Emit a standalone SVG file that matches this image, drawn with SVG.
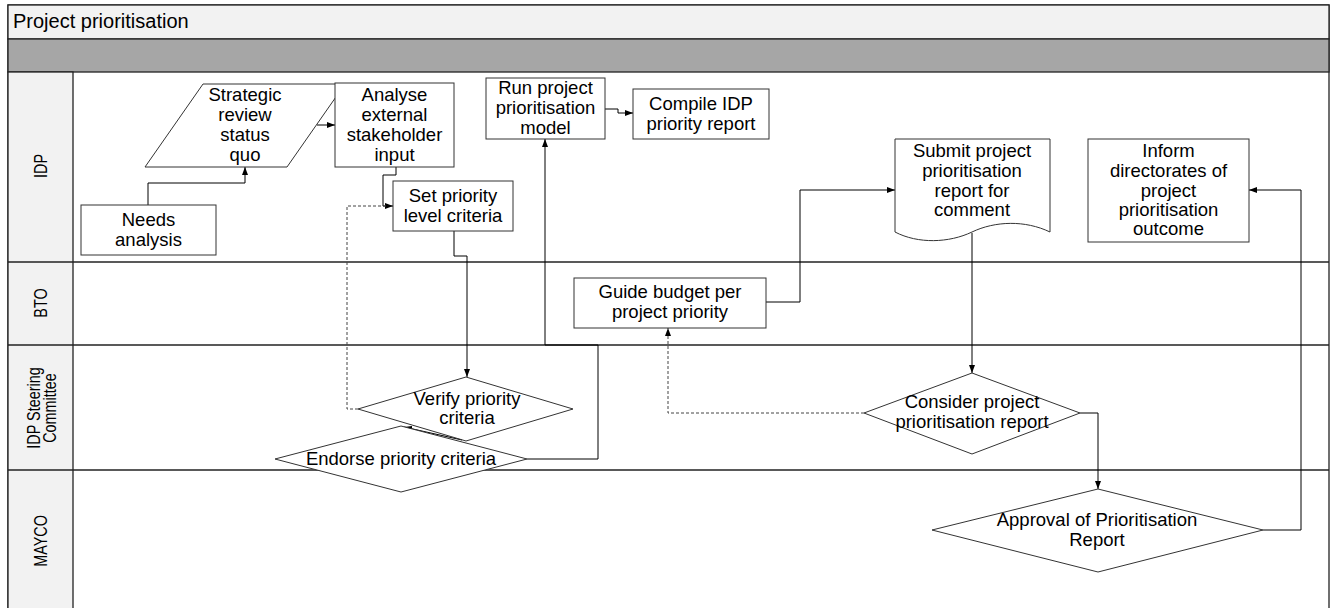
<svg xmlns="http://www.w3.org/2000/svg" width="1335" height="608" viewBox="0 0 1335 608">
  <defs>
    <marker id="arr" viewBox="0 0 8 6" refX="8" refY="3" markerWidth="8" markerHeight="6" orient="auto" markerUnits="userSpaceOnUse">
      <path d="M0,0 L8,3 L0,6 z" fill="#000"/>
    </marker>
  </defs>
  <style>
    .frame { fill: #fff; stroke: #222; stroke-width: 1.3; }
    .hdr { fill: #f2f2f2; stroke: #222; stroke-width: 1.3; }
    .band { fill: #a6a6a6; stroke: #222; stroke-width: 1.3; }
    .lane { stroke: #222; stroke-width: 1.3; fill: none; }
    .node { fill: #fff; stroke: #333; stroke-width: 1; }
    .t { font-family: "Liberation Sans", Arial, sans-serif; font-size: 18.5px; fill: #000; text-anchor: middle; }
    .title { font-family: "Liberation Sans", Arial, sans-serif; font-size: 20px; fill: #000; }
    .lbl { font-family: "Liberation Sans", Arial, sans-serif; font-size: 18px; fill: #000; text-anchor: middle; }
    .c { fill: none; stroke: #000; stroke-width: 1; }
    .d { fill: none; stroke: #444; stroke-width: 1; stroke-dasharray: 3 2; }
  </style>

  <!-- pool frame, title bar and grey band -->
  <g id="pool">
    <rect class="frame" x="8" y="5" width="1321" height="610"/>
    <rect class="hdr" x="8" y="5" width="1321" height="34"/>
    <text class="title" x="13" y="28">Project prioritisation</text>
    <rect class="band" x="8" y="39" width="1321" height="33"/>
    <rect class="hdr" x="8" y="72" width="65" height="543"/>
    <line class="lane" x1="8" y1="262" x2="1329" y2="262"/>
    <line class="lane" x1="8" y1="345" x2="1329" y2="345"/>
    <line class="lane" x1="8" y1="470" x2="1329" y2="470"/>
  </g>

  <!-- lane labels (condensed, rotated) -->
  <g id="lane-labels">
    <text class="lbl" transform="translate(47,166) rotate(-90) scale(0.8,1)">IDP</text>
    <text class="lbl" transform="translate(47,303) rotate(-90) scale(0.8,1)">BTO</text>
    <text class="lbl" transform="translate(39.5,408) rotate(-90) scale(0.8,1)">IDP Steering</text>
    <text class="lbl" transform="translate(56,408) rotate(-90) scale(0.8,1)">Committee</text>
    <text class="lbl" transform="translate(47,541) rotate(-90) scale(0.8,1)">MAYCO</text>
  </g>

  <!-- connectors -->
  <g id="connectors">
    <path class="c" d="M148,205 V183 H245 V167" marker-end="url(#arr)"/>
    <path class="c" d="M317,125 H335" marker-end="url(#arr)"/>
    <path class="c" d="M396,167 V175 H383 V206 H393" marker-end="url(#arr)"/>
    <path class="d" d="M358,409 H347 V206 H386"/>
    <path class="c" d="M454,231 V256 H467 V377" marker-end="url(#arr)"/>
    <path class="c" d="M462,440 L404,427" marker-end="url(#arr)"/>
    <path class="c" d="M527,459 H598 V345 H545 V139" marker-end="url(#arr)"/>
    <path class="c" d="M605,109 H618 V113 H633" marker-end="url(#arr)"/>
    <path class="c" d="M766,302 H800 V190 H895" marker-end="url(#arr)"/>
    <path class="c" d="M972,233 V373" marker-end="url(#arr)"/>
    <path class="d" d="M864,413 H668 V328" marker-end="url(#arr)"/>
    <path class="c" d="M1080,413 H1098 V489" marker-end="url(#arr)"/>
    <path class="c" d="M1263,530 H1301 V190 H1249" marker-end="url(#arr)"/>
  </g>

  <!-- IDP lane -->
  <g id="needs-analysis">
    <rect class="node" x="81" y="205" width="135" height="50"/>
    <text class="t" x="148.5" y="226">Needs</text>
    <text class="t" x="148.5" y="246">analysis</text>
  </g>
  <g id="strategic-review">
    <polygon class="node" points="203,84 345,84 287,167 145,167"/>
    <text class="t" x="245" y="101">Strategic</text>
    <text class="t" x="245" y="121">review</text>
    <text class="t" x="245" y="141">status</text>
    <text class="t" x="245" y="161">quo</text>
  </g>
  <g id="analyse-input">
    <rect class="node" x="335" y="83" width="119" height="84"/>
    <text class="t" x="394.5" y="101">Analyse</text>
    <text class="t" x="394.5" y="121">external</text>
    <text class="t" x="394.5" y="141">stakeholder</text>
    <text class="t" x="394.5" y="161">input</text>
  </g>
  <g id="set-priority">
    <rect class="node" x="393" y="181" width="120" height="50"/>
    <text class="t" x="453" y="202">Set priority</text>
    <text class="t" x="453" y="222">level criteria</text>
  </g>
  <g id="run-model">
    <rect class="node" x="486" y="78" width="119" height="61"/>
    <text class="t" x="545.5" y="94">Run project</text>
    <text class="t" x="545.5" y="114">prioritisation</text>
    <text class="t" x="545.5" y="134">model</text>
  </g>
  <g id="compile-report">
    <rect class="node" x="633" y="89" width="136" height="50"/>
    <text class="t" x="701" y="110">Compile IDP</text>
    <text class="t" x="701" y="130">priority report</text>
  </g>
  <g id="submit-report">
    <path class="node" d="M895,139 H1050 V232 C1025,220 995,221 972,232 C949,243 918,244 895,232 Z"/>
    <text class="t" x="972" y="157">Submit project</text>
    <text class="t" x="972" y="177">prioritisation</text>
    <text class="t" x="972" y="197">report for</text>
    <text class="t" x="972" y="216">comment</text>
  </g>
  <g id="inform-directorates">
    <rect class="node" x="1088" y="139" width="161" height="103"/>
    <text class="t" x="1168.5" y="157">Inform</text>
    <text class="t" x="1168.5" y="177">directorates of</text>
    <text class="t" x="1168.5" y="197">project</text>
    <text class="t" x="1168.5" y="216">prioritisation</text>
    <text class="t" x="1168.5" y="235">outcome</text>
  </g>

  <!-- BTO lane -->
  <g id="guide-budget">
    <rect class="node" x="574" y="278" width="192" height="50"/>
    <text class="t" x="670" y="298">Guide budget per</text>
    <text class="t" x="670" y="318">project priority</text>
  </g>

  <!-- IDP Steering Committee lane -->
  <g id="endorse-criteria">
    <polygon class="node" points="401,426 527,459 401,492 275,459"/>
    <text class="t" x="401" y="465">Endorse priority criteria</text>
  </g>
  <g id="verify-criteria">
    <polygon class="node" points="466,377 573,409 466,441 358,409" fill-opacity="0"/>
    <text class="t" x="467" y="405">Verify priority</text>
    <text class="t" x="467" y="424">criteria</text>
  </g>
  <g id="consider-report">
    <polygon class="node" points="972,373 1080,413 972,454 864,413"/>
    <text class="t" x="972" y="408">Consider project</text>
    <text class="t" x="972" y="428">prioritisation report</text>
  </g>

  <!-- MAYCO lane -->
  <g id="approval-report">
    <polygon class="node" points="1098,489 1263,530 1098,572 932,530"/>
    <text class="t" x="1097" y="526">Approval of Prioritisation</text>
    <text class="t" x="1097" y="546">Report</text>
  </g>
</svg>
